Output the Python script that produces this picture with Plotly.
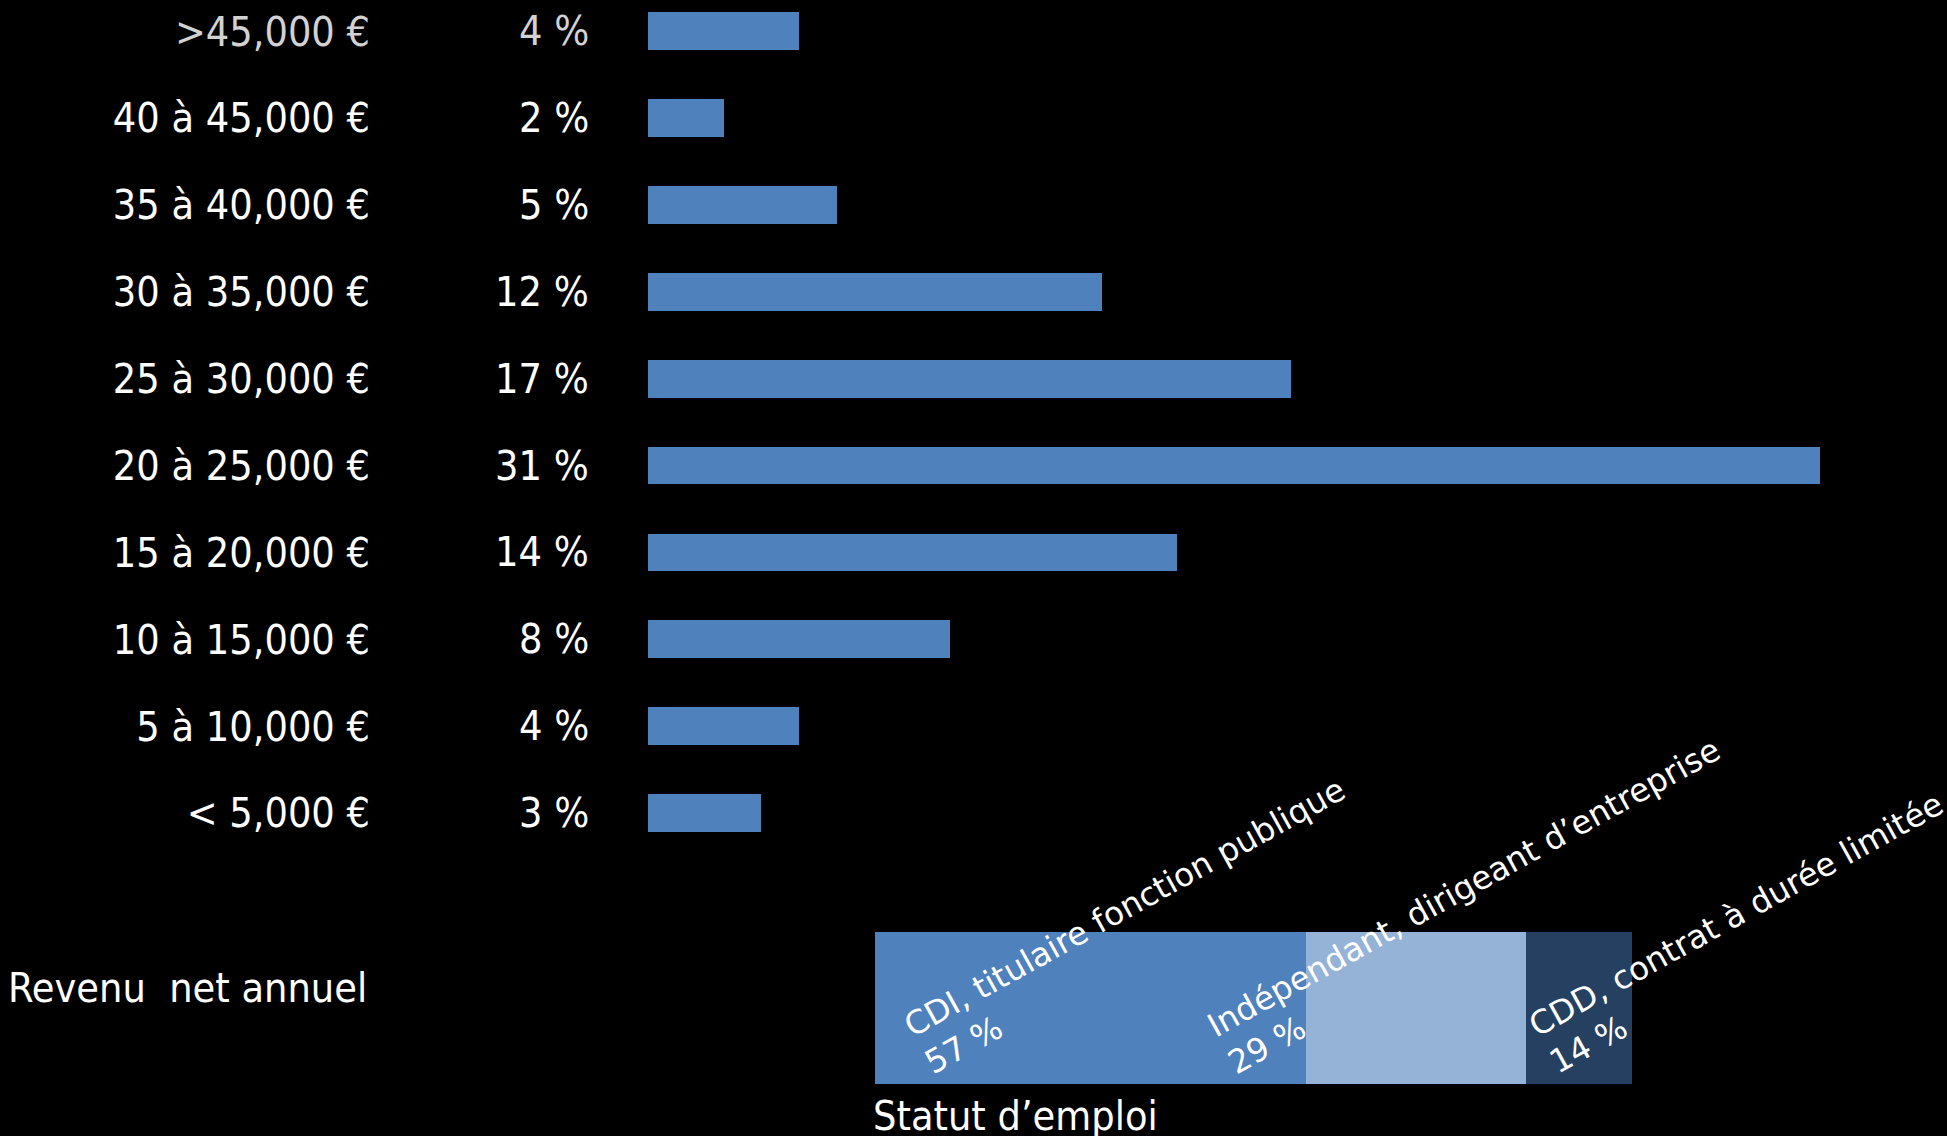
import plotly.graph_objects as go

# ---- data ----
income_labels = ["< 5,000 €", "5 à 10,000 €", "10 à 15,000 €", "15 à 20,000 €", "20 à 25,000 €",
                 "25 à 30,000 €", "30 à 35,000 €", "35 à 40,000 €", "40 à 45,000 €", ">45,000 €"]
income_pct = [3, 4, 8, 14, 31, 17, 12, 5, 2, 4]

status_labels = ["CDI, titulaire fonction publique", "Indépendant, dirigeant d’entreprise",
                 "CDD, contrat à durée limitée"]
status_pct = [57, 29, 14]
status_colors = ["#4F81BD", "#95B3D7", "#254061"]
# horizontal nudges (px) of the rotated status labels
status_label_shift = [20, -108, -6]

W, H = 1947, 1136
FONT_C = "DejaVu Sans Condensed, DejaVu Sans, sans-serif"
FONT = "DejaVu Sans, sans-serif"

fig = go.Figure()

# main horizontal bars
fig.add_trace(go.Bar(
    x=income_pct, y=list(range(len(income_labels))), orientation="h",
    marker=dict(color="#4F81BD", line=dict(width=0)), width=0.434,
    xaxis="x", yaxis="y", hoverinfo="skip", showlegend=False))

# stacked status bar
for lab, v, c in zip(status_labels, status_pct, status_colors):
    fig.add_trace(go.Bar(
        x=[v], y=[0], orientation="h", marker=dict(color=c, line=dict(width=0)), width=1,
        xaxis="x2", yaxis="y2", hoverinfo="skip", showlegend=False, name=lab))

ticktext = []
for i, lab in enumerate(income_labels):
    if i == len(income_labels) - 1:
        ticktext.append("<span style='color:#d2d2d2'>" + lab + "</span>")
    else:
        ticktext.append(lab)

annotations = []
# percentage labels left of bars
for i, v in enumerate(income_pct):
    col = "#d2d2d2" if i == len(income_pct) - 1 else "white"
    annotations.append(dict(
        x=0, y=i, xref="x", yref="y", text=f"{v} %", showarrow=False,
        xanchor="right", yanchor="middle", xshift=-57,
        font=dict(family=FONT_C, size=41, color=col)))

# rotated labels on stacked bar
cum = 0
for lab, v, sh in zip(status_labels, status_pct, status_label_shift):
    annotations.append(dict(
        x=cum, y=-0.5, xref="x2", yref="y2", text=f"{lab}<br>{v} %", showarrow=False,
        xanchor="left", yanchor="bottom", textangle=-29, align="left", xshift=sh,
        font=dict(family=FONT, size=32.5, color="white")))
    cum += v

annotations.append(dict(
    x=369 / W, y=1 - 988 / H, xref="paper", yref="paper", text="Revenu\u00a0 net annuel",
    showarrow=False, xanchor="right", yanchor="middle",
    font=dict(family=FONT_C, size=41, color="white")))
annotations.append(dict(
    x=0, y=1 - 1084 / H, xref="x2", yref="paper", text="Statut d’emploi",
    showarrow=False, xanchor="left", yanchor="top", xshift=-4, yshift=-6,
    font=dict(family=FONT_C, size=41, color="white")))

fig.update_layout(
    width=W, height=H, margin=dict(l=0, r=0, t=0, b=0),
    paper_bgcolor="black", plot_bgcolor="black", barmode="stack", showlegend=False,
    xaxis=dict(domain=[648 / W, (648 + 33 * 37.8) / W], range=[0, 33], visible=False, fixedrange=True),
    yaxis=dict(domain=[1 - 856.5 / H, 1.0], range=[-0.5, 9.36], tickmode="array",
               tickvals=list(range(len(income_labels))), ticktext=ticktext,
               showgrid=False, zeroline=False, showline=False, ticks="",
               ticklabelstandoff=277, tickfont=dict(family=FONT_C, size=41, color="white"),
               fixedrange=True),
    xaxis2=dict(domain=[875 / W, 1632 / W], range=[0, 100], visible=False, anchor="y2", fixedrange=True),
    yaxis2=dict(domain=[1 - 1084 / H, 1 - 932 / H], range=[-0.5, 0.5], visible=False, anchor="x2",
                fixedrange=True),
    annotations=annotations,
)

fig.write_html("out.html", config={"displayModeBar": False},
               post_script="document.body.style.margin='0';document.body.style.background='black';"
                           "document.body.style.overflow='hidden';")
